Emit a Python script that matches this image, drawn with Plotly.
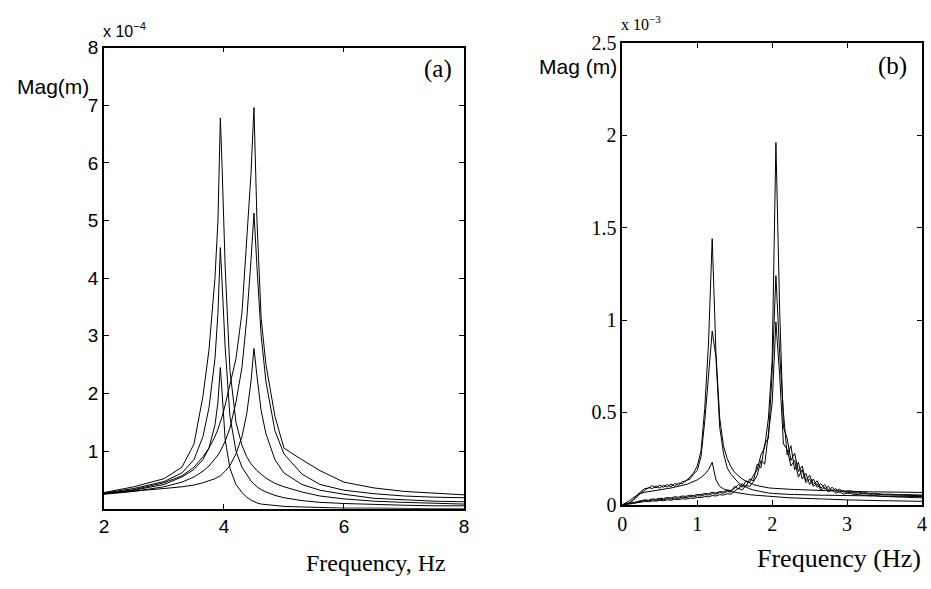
import plotly.graph_objects as go

W, H = 931, 589

# ---------------- Panel (a): magnitude (x 1e-4 m) vs frequency (Hz) ----------------
freq_a = [2.0, 2.5, 3.0, 3.3, 3.5, 3.65, 3.75, 3.85, 3.9, 3.94, 3.97, 4.02, 4.1, 4.2, 4.3,
          4.38, 4.45, 4.5, 4.55, 4.62, 4.7, 4.85, 5.0, 5.3, 5.6, 6.0, 6.5, 7.0, 7.5, 8.0]
a_mode1_high = [0.28, 0.38, 0.52, 0.72, 1.12, 1.95, 2.75, 4.0, 5.0, 6.78, 5.9, 4.2, 2.4, 1.5, 1.1,
                0.9, 0.78, 0.72, 0.66, 0.6, 0.53, 0.44, 0.38, 0.29, 0.22, 0.17, 0.13, 0.11, 0.09, 0.08]
a_mode1_mid = [0.27, 0.35, 0.47, 0.62, 0.85, 1.25, 1.75, 2.6, 3.4, 4.53, 3.9, 2.8, 1.6, 1.0, 0.72,
               0.58, 0.48, 0.43, 0.38, 0.33, 0.29, 0.23, 0.19, 0.14, 0.11, 0.09, 0.07, 0.06, 0.05, 0.05]
a_mode1_low = [0.26, 0.32, 0.42, 0.55, 0.68, 0.85, 1.05, 1.45, 1.85, 2.45, 2.0, 1.2, 0.7, 0.42, 0.28,
               0.2, 0.15, 0.12, 0.1, 0.08, 0.07, 0.05, 0.04, 0.03, 0.02, 0.01, 0.01, 0.0, 0.0, 0.0]
a_mode2_high = [0.26, 0.33, 0.45, 0.57, 0.72, 0.9, 1.05, 1.25, 1.38, 1.5, 1.6, 1.8, 2.15, 2.6, 3.4,
                4.7, 5.8, 6.96, 5.0, 3.3, 2.5, 1.6, 1.05, 0.85, 0.66, 0.46, 0.36, 0.3, 0.27, 0.24]
a_mode2_mid = [0.25, 0.3, 0.38, 0.46, 0.55, 0.65, 0.74, 0.86, 0.93, 1.0, 1.06, 1.17, 1.4, 1.85, 2.45,
               3.3, 4.3, 5.13, 4.2, 3.0, 2.2, 1.35, 0.95, 0.6, 0.42, 0.32, 0.26, 0.22, 0.2, 0.19]
a_mode2_low = [0.26, 0.3, 0.35, 0.38, 0.41, 0.45, 0.48, 0.52, 0.55, 0.57, 0.6, 0.65, 0.75, 0.95, 1.25,
               1.65, 2.2, 2.78, 2.3, 1.7, 1.3, 0.85, 0.62, 0.42, 0.32, 0.25, 0.18, 0.15, 0.13, 0.12]
series_a = [a_mode1_high, a_mode1_mid, a_mode1_low, a_mode2_high, a_mode2_mid, a_mode2_low]
xticks_a = [2, 4, 6, 8]
yticks_a = [1, 2, 3, 4, 5, 6, 7, 8]

# ---------------- Panel (b): magnitude (x 1e-3 m) vs frequency (Hz) ----------------
freq_b = [round(0.05 * i, 2) for i in range(81)]
b_m1_high = [0.000, 0.004, 0.012, 0.030, 0.055, 0.072, 0.088, 0.090, 0.104, 0.092, 0.106, 0.095, 0.110,
             0.098, 0.116, 0.106, 0.126, 0.128, 0.152, 0.172, 0.210, 0.290, 0.520, 0.870, 1.440, 0.820,
             0.470, 0.320, 0.250, 0.205, 0.175, 0.155, 0.140, 0.128, 0.118, 0.110, 0.104, 0.099, 0.095,
             0.092, 0.090,
             0.088, 0.087, 0.086, 0.085, 0.084, 0.083, 0.082, 0.081, 0.080, 0.079,
             0.078, 0.078, 0.077, 0.077, 0.076, 0.076, 0.075, 0.075, 0.074, 0.074,
             0.073, 0.073, 0.072, 0.072, 0.071, 0.071, 0.070, 0.070, 0.070, 0.069,
             0.069, 0.069, 0.068, 0.068, 0.068, 0.068, 0.067, 0.067, 0.067, 0.067]
b_m1_mid = [0.000, 0.003, 0.010, 0.025, 0.048, 0.066, 0.078, 0.094, 0.088, 0.102, 0.090, 0.106, 0.096,
            0.112, 0.100, 0.118, 0.114, 0.132, 0.138, 0.166, 0.186, 0.260, 0.450, 0.700, 0.940, 0.800,
            0.420, 0.280, 0.200, 0.165, 0.140, 0.120, 0.105, 0.095, 0.087, 0.080, 0.075, 0.070, 0.067,
            0.064, 0.062,
            0.060, 0.059, 0.058, 0.057, 0.056, 0.056, 0.055, 0.055, 0.054, 0.054,
            0.053, 0.053, 0.052, 0.052, 0.052, 0.051, 0.051, 0.051, 0.050, 0.050,
            0.050, 0.049, 0.049, 0.049, 0.048, 0.048, 0.048, 0.048, 0.047, 0.047,
            0.047, 0.047, 0.046, 0.046, 0.046, 0.046, 0.045, 0.045, 0.045, 0.045]
b_m1_low = [0.000, 0.010, 0.024, 0.040, 0.053, 0.062, 0.068, 0.072, 0.076, 0.079, 0.082, 0.085, 0.088,
            0.091, 0.095, 0.099, 0.104, 0.110, 0.117, 0.125, 0.135,
            0.148, 0.165, 0.190, 0.230, 0.135, 0.100, 0.086, 0.078, 0.072, 0.068, 0.064, 0.061, 0.058,
            0.055, 0.053, 0.051, 0.049, 0.047, 0.045, 0.043,
            0.042, 0.041, 0.040, 0.039, 0.038, 0.037, 0.036, 0.035, 0.034, 0.033,
            0.032, 0.032, 0.031, 0.030, 0.030, 0.029, 0.028, 0.028, 0.027, 0.027,
            0.026, 0.026, 0.025, 0.025, 0.024, 0.024, 0.024, 0.023, 0.023, 0.022,
            0.022, 0.022, 0.021, 0.021, 0.021, 0.020, 0.020, 0.020, 0.019, 0.019]
b_m2_high = [0.000, 0.003, 0.008, 0.012, 0.018, 0.022, 0.027, 0.025, 0.032, 0.030, 0.036, 0.033, 0.040,
             0.037, 0.044, 0.041, 0.048, 0.046, 0.052, 0.050, 0.056,
             0.055, 0.062, 0.060, 0.068, 0.064, 0.072, 0.070, 0.080, 0.078,
             0.090, 0.110, 0.095, 0.130, 0.120, 0.160,
             0.190, 0.270, 0.310, 0.470, 0.780, 1.960, 1.050, 0.420, 0.360, 0.240, 0.280, 0.180, 0.210,
             0.130, 0.160, 0.110, 0.130, 0.090, 0.110, 0.080, 0.095, 0.075, 0.085, 0.068, 0.075,
             0.075, 0.068, 0.070, 0.064, 0.066, 0.061, 0.062, 0.059, 0.060, 0.057,
             0.058, 0.056, 0.057, 0.055, 0.056, 0.054, 0.055, 0.054, 0.054, 0.053]
b_m2_mid = [0.000, 0.002, 0.006, 0.010, 0.015, 0.019, 0.023, 0.021, 0.027, 0.025, 0.030, 0.028, 0.034,
            0.031, 0.037, 0.035, 0.041, 0.039, 0.045, 0.043, 0.049,
            0.048, 0.055, 0.053, 0.060, 0.058, 0.066, 0.063, 0.072, 0.070,
            0.100, 0.085, 0.115, 0.100, 0.140, 0.130,
            0.220, 0.200, 0.330, 0.360, 0.720, 1.240, 0.820, 0.500, 0.270, 0.320, 0.190, 0.230, 0.140,
            0.170, 0.110, 0.140, 0.095, 0.115, 0.085, 0.100, 0.075, 0.088, 0.068, 0.078, 0.064,
            0.069, 0.063, 0.064, 0.060, 0.061, 0.057, 0.058, 0.055, 0.056, 0.054,
            0.054, 0.052, 0.053, 0.051, 0.052, 0.050, 0.051, 0.050, 0.050, 0.049]
b_m2_low = [0.000, 0.001, 0.004, 0.008, 0.012, 0.015, 0.018, 0.017, 0.021, 0.020, 0.024, 0.022, 0.027,
            0.025, 0.030, 0.028, 0.033, 0.031, 0.036, 0.035, 0.040,
            0.039, 0.045, 0.043, 0.050, 0.048, 0.055, 0.053, 0.060, 0.058,
            0.075, 0.090, 0.080, 0.105, 0.100, 0.125,
            0.160, 0.240, 0.220, 0.400, 0.550, 0.990, 0.700, 0.330, 0.300, 0.210, 0.240, 0.150, 0.190,
            0.120, 0.140, 0.100, 0.115, 0.080, 0.095, 0.070, 0.082, 0.063, 0.072, 0.058, 0.064,
            0.061, 0.055, 0.056, 0.052, 0.053, 0.049, 0.050, 0.047, 0.048, 0.045,
            0.045, 0.043, 0.044, 0.042, 0.042, 0.040, 0.041, 0.039, 0.039, 0.038]
series_b = [b_m1_high, b_m1_mid, b_m1_low, b_m2_high, b_m2_mid, b_m2_low]
xticks_b = [0, 1, 2, 3, 4]
yticks_b = [0, 0.5, 1, 1.5, 2, 2.5]
yticklabels_b = ["0", "0.5", "1", "1.5", "2", "2.5"]

# ---------------- figure ----------------
fig = go.Figure()
for s in series_a:
    fig.add_trace(go.Scatter(x=freq_a, y=s, mode="lines", xaxis="x", yaxis="y",
                             line=dict(color="black", width=1), showlegend=False, hoverinfo="skip"))
for s in series_b:
    fig.add_trace(go.Scatter(x=freq_b, y=s, mode="lines", xaxis="x2", yaxis="y2",
                             line=dict(color="black", width=1), showlegend=False, hoverinfo="skip"))

def px(x):
    return x / W

def py(y):
    return 1 - y / H

SANS = "Liberation Sans, Arial, sans-serif"
SERIF = "Liberation Serif, Times New Roman, serif"

ax_common = dict(showline=True, linecolor="black", linewidth=1.8, mirror="allticks",
                 ticks="inside", ticklen=5, tickcolor="black", tickwidth=1,
                 showgrid=False, zeroline=False)

fig.update_layout(
    width=W, height=H, margin=dict(l=0, r=0, t=0, b=0),
    paper_bgcolor="white", plot_bgcolor="white",
    xaxis=dict(domain=[px(100), px(464)], range=[2, 8], tickvals=xticks_a,
               tickfont=dict(family=SANS, size=19, color="black"), anchor="y", **ax_common),
    yaxis=dict(domain=[py(517), py(38)], range=[0, 8], tickvals=yticks_a,
               tickfont=dict(family=SANS, size=19, color="black"), anchor="x", **ax_common),
    xaxis2=dict(domain=[px(624), px(927)], range=[0, 4], tickvals=xticks_b,
                tickfont=dict(family=SERIF, size=20, color="black"), anchor="y2", **ax_common),
    yaxis2=dict(domain=[py(513), py(33)], range=[0, 2.5], tickvals=yticks_b, ticktext=yticklabels_b,
                tickfont=dict(family=SERIF, size=20, color="black"), anchor="x2", **ax_common),
)

ann = [
    dict(x=px(10), y=py(78), text="Mag(m)", font=dict(family=SANS, size=21), xanchor="left"),
    dict(x=px(97), y=py(20), text="x 10<sup>−4</sup>", font=dict(family=SANS, size=16), xanchor="left"),
    dict(x=px(454), y=py(60), text="(a)", font=dict(family=SERIF, size=25), xanchor="right"),
    dict(x=px(375), y=py(573), text="Frequency, Hz", font=dict(family=SERIF, size=24), xanchor="center"),
    dict(x=px(538), y=py(58), text="Mag (m)", font=dict(family=SANS, size=21), xanchor="left"),
    dict(x=px(621), y=py(12), text="x 10<sup>−3</sup>", font=dict(family=SERIF, size=16), xanchor="left"),
    dict(x=px(914), y=py(57), text="(b)", font=dict(family=SERIF, size=25), xanchor="right"),
    dict(x=px(928), y=py(569), text="Frequency (Hz)", font=dict(family=SERIF, size=26), xanchor="right"),
]
for a in ann:
    a.update(xref="paper", yref="paper", showarrow=False, yanchor="middle")
    a["font"]["color"] = "black"
fig.update_layout(annotations=ann)

fig.write_html("out.html", config={"displayModeBar": False})
